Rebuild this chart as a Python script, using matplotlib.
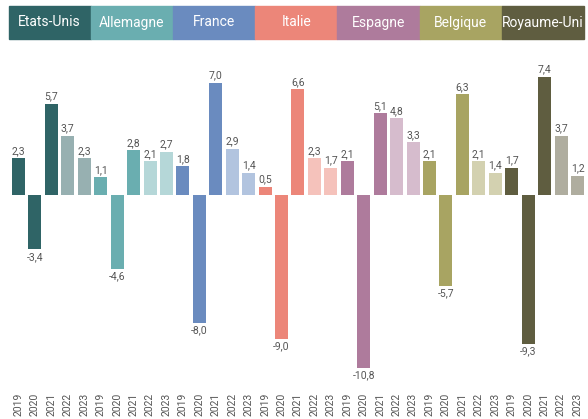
import matplotlib
matplotlib.use('Agg')
import matplotlib.pyplot as plt
import matplotlib.transforms as mtransforms
from matplotlib.patches import Rectangle

plt.rcParams['font.family'] = ['Roboto', 'DejaVu Sans']

countries = ['Etats-Unis', 'Allemagne', 'France', 'Italie', 'Espagne', 'Belgique', 'Royaume-Uni']
years = ['2019', '2020', '2021', '2022', '2023']
us = [2.3, -3.4, 5.7, 3.7, 2.3]
de = [1.1, -4.6, 2.8, 2.1, 2.7]
fr = [1.8, -8.0, 7.0, 2.9, 1.4]
it = [0.5, -9.0, 6.6, 2.3, 1.7]
es = [2.1, -10.8, 5.1, 4.8, 3.3]
be = [2.1, -5.7, 6.3, 2.1, 1.4]
uk = [1.7, -9.3, 7.4, 3.7, 1.2]
series = [us, de, fr, it, es, be, uk]

dark = ['#2f6466', '#6aaeb0', '#6a8bbf', '#ec8679', '#ae7b9c', '#a8a462', '#5f5d40']
light = ['#97b0b1', '#b5d7d8', '#b2c4df', '#f5c2bb', '#d6bccd', '#d3d1b0', '#afad9f']

fig = plt.figure(figsize=(5.88, 4.19), dpi=100)
ax = fig.add_axes([0, 34 / 419, 1, 340 / 419])

sp = 16.44
ax.set_xlim(-18.5 / sp, (588 - 18.5) / sp)
ax.set_ylim(-(385 - 195) / 16, (195 - 45) / 16)

xs = []
labels = []
for g, vals in enumerate(series):
    for j, v in enumerate(vals):
        x = g * 5 + j
        xs.append(x)
        labels.append(years[j])
        c = dark[g] if j < 3 else light[g]
        ax.bar(x, v, width=0.79, color=c)
        txt = f'{v:.1f}'.replace('.', ',')
        if v >= 0:
            ax.text(x, v + 0.15, txt, ha='center', va='bottom', fontsize=7.5, color='#555555')
        else:
            ax.text(x, v - 0.15, txt, ha='center', va='top', fontsize=7.5, color='#555555')

ax.set_xticks(xs)
ax.set_xticklabels(labels, rotation=90, fontsize=7.5, color='#555555')
ax.tick_params(axis='x', length=0, pad=5.5)
ax.set_yticks([])
for s in ax.spines.values():
    s.set_visible(False)

# en-têtes pays
trans = mtransforms.blended_transform_factory(ax.transData, fig.transFigure)
y0 = 1 - 39 / 419
h = 33 / 419
for g, name in enumerate(countries):
    r = Rectangle((g * 5 - 0.6, y0), 5, h, transform=trans, color=dark[g], clip_on=False)
    fig.add_artist(r)
    fig.text(g * 5 + 1.9, y0 + h / 2, name, transform=trans, ha='center', va='center',
             fontsize=10, color='white')

fig.savefig('out.png', dpi=100)
